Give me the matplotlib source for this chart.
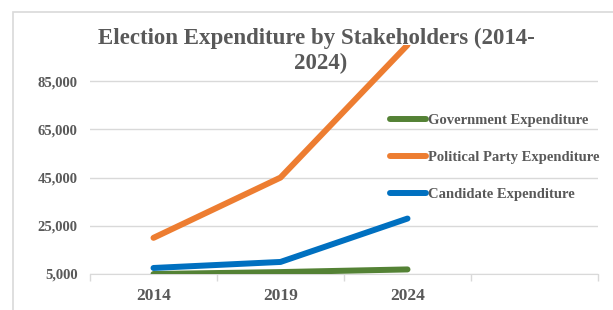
import matplotlib
matplotlib.use('Agg')
import matplotlib.pyplot as plt
from matplotlib.patches import Rectangle

years = ['2014', '2019', '2024', '']
government = [5000, 5800, 6900]
political_party = [20000, 45000, 100000]
candidate = [7500, 10000, 28000]
y_ticks = [5000, 25000, 45000, 65000, 85000]

plt.rcParams['font.family'] = 'Liberation Serif'
plt.rcParams['font.weight'] = 'bold'
text_color = '#595959'
grid_color = '#d9d9d9'

fig = plt.figure(figsize=(6.13, 3.10), dpi=100)
fig.patches.append(Rectangle((13 / 613, -0.1), 1.0, (310 - 12) / 310 + 0.1,
                             transform=fig.transFigure, fill=False,
                             edgecolor='#d9d9d9', linewidth=1.2))

ax = fig.add_axes([90 / 613, (310 - 274) / 310, (598 - 90) / 613, (274 - 45) / 310])
x = range(3)
ax.plot(x, government, color='#548235', linewidth=4.3, solid_capstyle='round',
        label='Government Expenditure', zorder=3)
ax.plot(x, political_party, color='#ed7d31', linewidth=4.3, solid_capstyle='round',
        label='Political Party Expenditure', zorder=3)
ax.plot(x, candidate, color='#0070c0', linewidth=4.3, solid_capstyle='round',
        label='Candidate Expenditure', zorder=3)

ax.set_xlim(-0.5, len(years) - 0.5)
ax.set_ylim(5000, 100000)
ax.set_yticks(y_ticks)
ax.set_yticklabels([f'{v:,}' for v in y_ticks], fontsize=10.5, color=text_color)
ax.set_xticks(range(len(years)))
ax.set_xticklabels(years, fontsize=12.5, color=text_color)
ax.set_xticks([i - 0.5 for i in range(len(years) + 1)], minor=True)
ax.tick_params(axis='x', which='major', length=0, pad=10)
ax.tick_params(axis='x', which='minor', length=5, color=grid_color, width=1)
ax.tick_params(axis='y', length=0, pad=9)
ax.grid(axis='y', color=grid_color, linewidth=1)
for side in ['left', 'right', 'top']:
    ax.spines[side].set_visible(False)
ax.spines['bottom'].set_color(grid_color)

fig.text(316 / 613, 1 - 38 / 310, 'Election Expenditure by Stakeholders (2014-',
         ha='center', va='center', fontsize=16.5, color=text_color, fontweight='bold')
fig.text(321 / 613, 1 - 63 / 310, '2024)',
         ha='center', va='center', fontsize=16.5, color=text_color, fontweight='bold')

leg = ax.legend(loc='upper left', bbox_to_anchor=(390 / 613, 1 - 114 / 310),
                bbox_transform=fig.transFigure, frameon=False, fontsize=10.5,
                handlelength=2.5, handletextpad=0.1, labelspacing=1.63,
                borderaxespad=0, borderpad=0, labelcolor=text_color)

plt.savefig('out.png', dpi=100)
